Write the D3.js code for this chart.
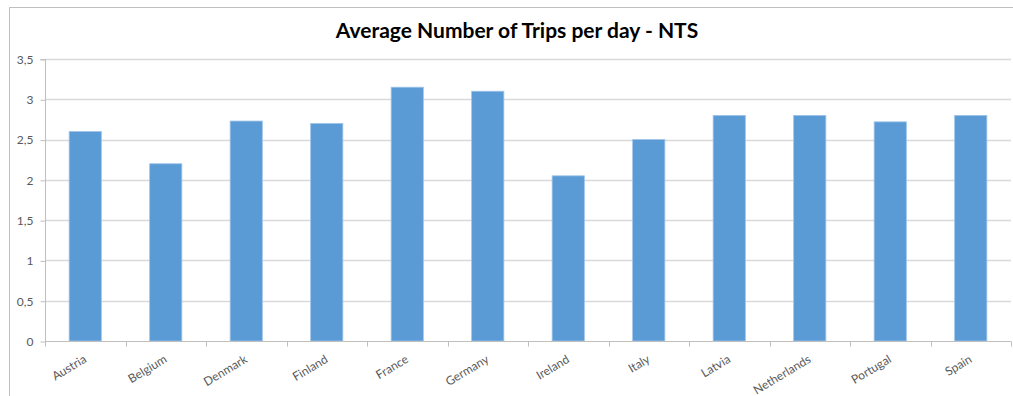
<!DOCTYPE html>
<html>
<head>
<meta charset="utf-8">
<script src="https://cdn.jsdelivr.net/npm/d3@7"></script>
<style>
  html, body { margin: 0; padding: 0; background: #fff; }
  svg { display: block; }
</style>
</head>
<body>
<svg id="chart" width="1013" height="396"></svg>
<script>
const categories = ["Austria", "Belgium", "Denmark", "Finland", "France", "Germany", "Ireland", "Italy", "Latvia", "Netherlands", "Portugal", "Spain"];
const values = [2.6, 2.2, 2.73, 2.7, 3.15, 3.1, 2.05, 2.5, 2.8, 2.8, 2.72, 2.8];
const yTicks = [0, 0.5, 1, 1.5, 2, 2.5, 3, 3.5];
const title = "Average Number of Trips per day - NTS";

const svg = d3.select("#chart");
const plot = { left: 45, right: 1011, top: 59, bottom: 341 };
const font = "Lato, 'Open Sans', sans-serif";

// outer chart border
svg.append("rect")
  .attr("x", 9.5).attr("y", 7.5)
  .attr("width", 1100).attr("height", 500)
  .attr("fill", "#fff").attr("stroke", "#bfbfbf").attr("stroke-width", 1);

const x = d3.scaleBand().domain(categories)
  .range([plot.left, plot.right]).paddingInner(0.6).paddingOuter(0.3);
const y = d3.scaleLinear().domain([0, 3.5]).range([plot.bottom, plot.top]);

// gridlines
svg.append("g").selectAll("line").data(yTicks.filter(d => d > 0)).join("line")
  .attr("x1", plot.left).attr("x2", plot.right)
  .attr("y1", d => Math.round(y(d)) + 0.5).attr("y2", d => Math.round(y(d)) + 0.5)
  .attr("stroke", "#d9d9d9").attr("stroke-width", 1.5);

// bars
svg.append("g").selectAll("rect").data(values).join("rect")
  .attr("x", (d, i) => x(categories[i]))
  .attr("y", d => y(d))
  .attr("width", x.bandwidth())
  .attr("height", d => y(0) - y(d))
  .attr("fill", "#5b9bd5")
  .attr("stroke", "#9fc4ea").attr("stroke-width", 0.8);

// y axis
const yAxis = d3.axisLeft(y).tickValues(yTicks).tickSize(5).tickPadding(7)
  .tickFormat(d => String(d).replace(".", ","));
const gy = svg.append("g").attr("transform", `translate(${plot.left + 0.5},0.5)`).call(yAxis);
gy.select(".domain").attr("stroke", "#bfbfbf").attr("d", `M-5,${plot.top}H0V${plot.bottom}`);
gy.selectAll(".tick line").attr("stroke", "#bfbfbf");
gy.selectAll(".tick text").attr("fill", "#595959")
  .style("font-family", font).style("font-size", "12px");

// x axis
const xAxis = d3.axisBottom(x).tickSize(0).tickFormat(d => d);
const gx = svg.append("g").attr("transform", `translate(0,${plot.bottom + 0.5})`).call(xAxis);
gx.select(".domain").attr("stroke", "#bfbfbf").attr("d", `M${plot.left},0H${plot.right}`);
const step = x.step();
const bounds = d3.range(categories.length + 1).map(i => plot.left + i * step);
gx.append("g").selectAll("line").data(bounds).join("line")
  .attr("x1", d => Math.round(d) + 0.5).attr("x2", d => Math.round(d) + 0.5)
  .attr("y1", 0).attr("y2", 5).attr("stroke", "#bfbfbf");
gx.selectAll(".tick text")
  .attr("fill", "#595959")
  .style("font-family", font).style("font-size", "12px")
  .attr("text-anchor", "end")
  .attr("dy", "0").attr("y", 0).attr("x", 0)
  .attr("transform", "translate(2,20) rotate(-31)");

// title
svg.append("text")
  .attr("x", 517).attr("y", 38)
  .attr("text-anchor", "middle")
  .style("font-family", font)
  .style("font-weight", "bold").style("font-size", "21px")
  .attr("fill", "#000")
  .text(title);
</script>
</body>
</html>
